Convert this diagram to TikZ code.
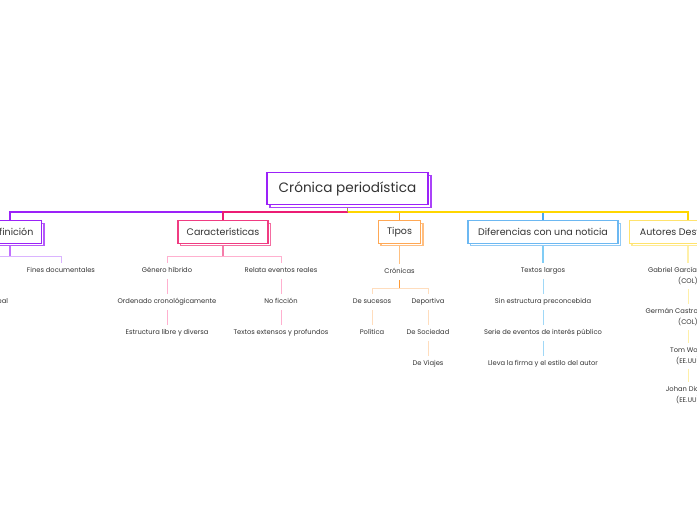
\documentclass[tikz,border=0pt]{standalone}
\usepackage{fontspec}
\setmainfont{Poppins}
\usetikzlibrary{shadows}
\pgfdeclarelayer{background}
\pgfsetlayers{background,main}
\definecolor{txt}{HTML}{333333}
\definecolor{cP}{HTML}{9B22F8}
\definecolor{cPm}{HTML}{C070FF}
\definecolor{cPl}{HTML}{DAB4FF}
\definecolor{cK}{HTML}{EC1C74}
\definecolor{cKb}{HTML}{F03C82}
\definecolor{cKm}{HTML}{F47DAA}
\definecolor{cKl}{HTML}{FFB0CF}
\definecolor{cO}{HTML}{FF9C3A}
\definecolor{cOb}{HTML}{FFA855}
\definecolor{cOm}{HTML}{FFC080}
\definecolor{cOd}{HTML}{FF9A33}
\definecolor{cOl}{HTML}{FFDDBD}
\definecolor{cB}{HTML}{4DA8EE}
\definecolor{cBb}{HTML}{6CB8F2}
\definecolor{cBm}{HTML}{80CCF5}
\definecolor{cBl}{HTML}{A0D8F7}
\definecolor{cY}{HTML}{FFD600}
\definecolor{cYb}{HTML}{FFE36E}
\definecolor{cYl}{HTML}{FFF0A8}
\definecolor{cOlv}{HTML}{A8A03C}
\begin{document}
\begin{tikzpicture}[x=1pt,y=-1pt,
  topbox/.style={draw=cP, line width=1.6pt, fill=white, text=txt,
    minimum width=161pt, minimum height=32pt, inner sep=0pt,
    font=\fontsize{13.6}{15}\selectfont,
    copy shadow={shadow xshift=3pt, shadow yshift=-3pt, draw=cP!85, fill=white, line width=1.4pt}},
  lvlbox/.style={draw=#1, line width=1.3pt, fill=white, text=txt,
    minimum height=22.5pt, inner sep=0pt,
    font=\fontsize{9.5}{11}\selectfont,
    copy shadow={shadow xshift=2.5pt, shadow yshift=-2.5pt, draw=#1!75, fill=white, line width=1.1pt}},
  lbl/.style={text=txt, font=\fontsize{6.75}{8}\selectfont, inner sep=0.5pt,
    outer sep=4pt, text height=5pt, text depth=1.5pt},
  lbl2/.style={text=txt, font=\fontsize{6.75}{11}\selectfont, inner sep=0.5pt,
    outer sep=3.5pt, align=center},
  mainln/.style={line width=1.2pt},
  subln/.style={line width=1.1pt},
  thin/.style={line width=1pt}
]
\useasboundingbox (0,0) rectangle (697,520);

% central and first level
\node[topbox] (main) at (347.5,188.5) {Crónica periodística};
\node[lvlbox=cP, minimum width=63pt] (def) at (10,232) {Definición};
\node[lvlbox=cKb, minimum width=90pt] (car) at (223,232) {Características};
\node[lvlbox=cOb, minimum width=42pt] (tip) at (399.5,232) {Tipos};
\node[lvlbox=cBb, minimum width=150pt] (dif) at (543,232) {Diferencias con una noticia};
\node[lvlbox=cYb, minimum width=117pt] (aut) at (688,232) {Autores Destacados};

% Definición
\node[lbl] (fin) at (61,271) {Fines documentales};
\node[lbl, anchor=east] (defg) at (12.5,302) {Narración de un hecho real};
\node[lbl] (defp) at (defg.center |- 0,271) {Género periodístico};

% Características
\node[lbl] (gen) at (167,271) {Género híbrido};
\node[lbl] (ord) at (167,302) {Ordenado cronológicamente};
\node[lbl] (est) at (167,333) {Estructura libre y diversa};
\node[lbl] (rel) at (281,271) {Relata eventos reales};
\node[lbl] (nof) at (281,302) {No ficción};
\node[lbl] (tex) at (281,333) {Textos extensos y profundos};

% Tipos
\node[lbl] (cro) at (399.5,272) {Crónicas};
\node[lbl] (suc) at (372,302) {De sucesos};
\node[lbl] (pol) at (372,333) {Política};
\node[lbl] (dep) at (428,302) {Deportiva};
\node[lbl] (soc) at (428,333) {De Sociedad};
\node[lbl] (via) at (428,364) {De Viajes};

% Diferencias
\node[lbl] (tl) at (543,271) {Textos largos};
\node[lbl] (sin) at (543,302) {Sin estructura preconcebida};
\node[lbl] (ser) at (543,333) {Serie de eventos de interés público};
\node[lbl] (lle) at (543,364) {Lleva la firma y el estilo del autor};

% Autores
\node[lbl2] (gab) at (688,276) {Gabriel García Márquez\\(COL)};
\node[lbl2] (ger) at (688,317) {Germán Castro Caycedo\\(COL)};
\node[lbl2] (tom) at (688,356) {Tom Wolfe\\(EE.UU)};
\node[lbl2] (joh) at (688,395) {Johan Didion\\(EE.UU)};

\coordinate (mb) at (347.5,212);
\coordinate (defb) at (10,256.5);
\coordinate (carb) at (223,256.5);
\coordinate (crob) at (399.5,288);

\begin{pgfonlayer}{background}
  \fill[white] (0,0) rectangle (697,520);
  \draw[mainln, cO] (mb) -| (tip);
  \draw[mainln, cB] (mb) -| (dif);
  \draw[mainln, cY] (mb) -| (aut);
  \draw[mainln, cP] (mb) -| (def);
  \draw[mainln, cK] (mb) -| (car);
  \draw[mainln, cOlv] (main) -- (mb);

  \draw[subln, cPm] (def) -- (defb);
  \draw[thin, cPl] (defb) -| (fin);
  \draw[thin, cPl] (defb) -| (defp);
  \draw[thin, cPl] (defp) -- (defg);

  \draw[subln, cKm] (car) -- (carb);
  \draw[thin, cKl] (carb) -| (gen);
  \draw[thin, cKl] (carb) -| (rel);
  \draw[thin, cKl] (gen) -- (ord);
  \draw[thin, cKl] (ord) -- (est);
  \draw[thin, cKl] (rel) -- (nof);
  \draw[thin, cKl] (nof) -- (tex);

  \draw[subln, cOm] (tip) -- (cro);
  \draw[subln, cOd] (cro) -- (crob);
  \draw[thin, cOl] (crob) -| (suc);
  \draw[thin, cOl] (crob) -| (dep);
  \draw[thin, cOl] (suc) -- (pol);
  \draw[thin, cOl] (dep) -- (soc);
  \draw[thin, cOl] (soc) -- (via);

  \draw[subln, cBm] (dif) -- (tl);
  \draw[thin, cBl] (tl) -- (sin);
  \draw[thin, cBl] (sin) -- (ser);
  \draw[thin, cBl] (ser) -- (lle);

  \draw[subln, cYl] (aut) -- (gab);
  \draw[thin, cYl] (gab) -- (ger);
  \draw[thin, cYl] (ger) -- (tom);
  \draw[thin, cYl] (tom) -- (joh);
\end{pgfonlayer}
\end{tikzpicture}
\end{document}
